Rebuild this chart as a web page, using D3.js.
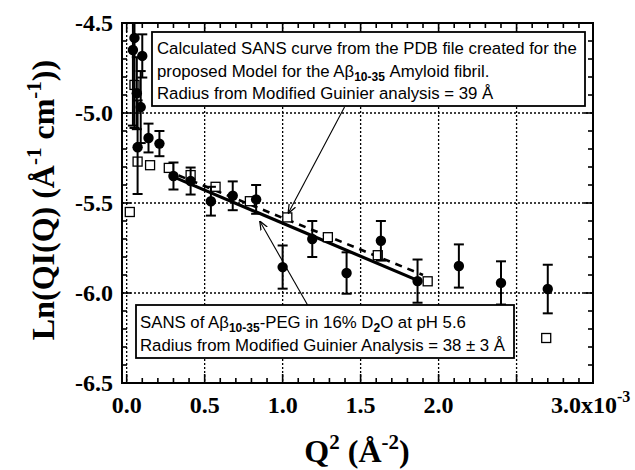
<!DOCTYPE html>
<html>
<head>
<meta charset="utf-8">
<script src="https://cdn.jsdelivr.net/npm/d3@7"></script>
<style>
  body { margin: 0; background: #fff; }
  svg { display: block; }
  .tick-lab { font-family: "Liberation Serif", "Times New Roman", serif; font-weight: bold; font-size: 24px; }
  .title { font-family: "Liberation Serif", "Times New Roman", serif; font-weight: bold; font-size: 32px; }
  .note { font-family: "Liberation Sans", Arial, sans-serif; font-size: 16.8px; }
</style>
</head>
<body>
<div id="chart"></div>
<script>
// measured SANS points (Q^2 in 1e-3 A^-2, ln(QI(Q)), error)
var measQ2  = [0.05, 0.04, 0.10, 0.065, 0.09, 0.07, 0.14, 0.21, 0.30, 0.41, 0.54, 0.68, 0.83, 1.00, 1.19, 1.41, 1.63, 1.865, 2.13, 2.40, 2.70];
var measLn  = [-4.583, -4.65, -4.683, -4.89, -4.967, -5.19, -5.139, -5.17, -5.35, -5.378, -5.49, -5.46, -5.48, -5.856, -5.70, -5.889, -5.71, -5.934, -5.85, -5.944, -5.978];
var measErr = [0.5, 0.42, 0.12, 0.2, 0.2, 0.26, 0.08, 0.07, 0.075, 0.075, 0.08, 0.08, 0.08, 0.12, 0.1, 0.115, 0.11, 0.12, 0.12, 0.12, 0.135];

// calculated curve from the PDB model (open squares)
var calcQ2 = [0.02, 0.05, 0.07, 0.15, 0.27, 0.41, 0.57, 0.79, 1.03, 1.29, 1.61, 1.93, 2.69];
var calcLn = [-5.55, -4.844, -5.27, -5.29, -5.305, -5.345, -5.41, -5.49, -5.58, -5.69, -5.79, -5.935, -6.25];

// Guinier fits: solid = measured, dashed = calculated
var fitMeasQ2 = [0.30, 1.865];
var fitMeasLn = [-5.355, -5.93];
var fitCalcQ2 = [0.256, 1.90];
var fitCalcLn = [-5.32, -5.90];

var xTicks = [0.0, 0.5, 1.0, 1.5, 2.0, 3.0];
var yTicks = [-4.5, -5.0, -5.5, -6.0, -6.5];

var width = 635, height = 470;
var pLeft = 122, pRight = 593, pTop = 23, pBottom = 383;

var svg = d3.select("#chart").append("svg")
    .attr("width", width)
    .attr("height", height);

var x = d3.scaleLinear().domain([-0.03, 2.99]).range([pLeft, pRight]);
var y = d3.scaleLinear().domain([-6.5, -4.5]).range([pBottom, pTop]);

var defs = svg.append("defs");
defs.append("clipPath").attr("id", "plot")
  .append("rect").attr("x", pLeft).attr("y", pTop)
  .attr("width", pRight - pLeft).attr("height", pBottom - pTop);

// dotted grid
var grid = svg.append("g").attr("stroke", "#000").attr("stroke-width", 1.3)
    .attr("stroke-dasharray", "2,2");
[0.0, 0.5, 1.0, 1.5, 2.0, 2.5].forEach(function(v) {
  grid.append("line").attr("x1", x(v)).attr("x2", x(v)).attr("y1", pTop).attr("y2", pBottom);
});
[-5.0, -5.5, -6.0].forEach(function(v) {
  grid.append("line").attr("x1", pLeft).attr("x2", pRight).attr("y1", y(v)).attr("y2", y(v));
});

// inward ticks on all four sides
function tickLen(v, step) {
  return Math.abs(Math.round(v / step) - v / step) < 1e-6 ? 9 : 5;
}
var ticks = svg.append("g").attr("stroke", "#000").attr("stroke-width", 1.6);
d3.range(0, 30).map(function(i) { return i / 10; }).forEach(function(v) {
  var len = tickLen(v, 0.5);
  ticks.append("line").attr("x1", x(v)).attr("x2", x(v)).attr("y1", pBottom).attr("y2", pBottom - len);
  ticks.append("line").attr("x1", x(v)).attr("x2", x(v)).attr("y1", pTop).attr("y2", pTop + len);
});
d3.range(-64, -45).map(function(i) { return i / 10; }).forEach(function(v) {
  var len = tickLen(v, 0.5);
  ticks.append("line").attr("x1", pLeft).attr("x2", pLeft + len).attr("y1", y(v)).attr("y2", y(v));
  ticks.append("line").attr("x1", pRight).attr("x2", pRight - len).attr("y1", y(v)).attr("y2", y(v));
});

// frame
svg.append("rect").attr("x", pLeft).attr("y", pTop)
  .attr("width", pRight - pLeft).attr("height", pBottom - pTop)
  .attr("fill", "none").attr("stroke", "#000").attr("stroke-width", 2);

// tick labels
svg.selectAll(".ylab").data(yTicks).enter().append("text")
  .attr("class", "tick-lab")
  .attr("x", pLeft - 9).attr("y", function(d) { return y(d); })
  .attr("dy", "0.35em").attr("text-anchor", "end")
  .text(function(d) { return d3.format(".1f")(d).replace("−", "-"); });

xTicks.forEach(function(v) {
  var t = svg.append("text").attr("class", "tick-lab")
    .attr("x", x(v)).attr("y", 413).attr("text-anchor", "middle");
  if (v === 3.0) {
    t.attr("x", x(v) - 4);
    t.append("tspan").text("3.0x10");
    t.append("tspan").attr("dy", -11).attr("font-size", "16px").text("-3");
  } else {
    t.text(d3.format(".1f")(v));
  }
});

var plot = svg.append("g").attr("clip-path", "url(#plot)");

// fit lines
var line = d3.line().x(function(d) { return x(d[0]); }).y(function(d) { return y(d[1]); });
plot.append("path").datum(d3.zip(fitMeasQ2, fitMeasLn)).attr("d", line)
  .attr("fill", "none").attr("stroke", "#000").attr("stroke-width", 3.2);
plot.append("path").datum(d3.zip(fitCalcQ2, fitCalcLn)).attr("d", line)
  .attr("fill", "none").attr("stroke", "#000").attr("stroke-width", 2.6)
  .attr("stroke-dasharray", "7,6");

// open squares
var sq = 9;
plot.selectAll(".sq").data(d3.zip(calcQ2, calcLn)).enter().append("rect")
  .attr("x", function(d) { return x(d[0]) - sq / 2; })
  .attr("y", function(d) { return y(d[1]) - sq / 2; })
  .attr("width", sq).attr("height", sq)
  .attr("fill", "#fff").attr("stroke", "#000").attr("stroke-width", 1.3);

// error bars + filled circles
var meas = d3.zip(measQ2, measLn, measErr);
var eb = plot.append("g").attr("stroke", "#000").attr("stroke-width", 2);
meas.forEach(function(d) {
  var cx = x(d[0]), y1 = y(d[1] + d[2]), y2 = y(d[1] - d[2]);
  eb.append("line").attr("x1", cx).attr("x2", cx).attr("y1", y1).attr("y2", y2);
  eb.append("line").attr("x1", cx - 5).attr("x2", cx + 5).attr("y1", y1).attr("y2", y1);
  eb.append("line").attr("x1", cx - 5).attr("x2", cx + 5).attr("y1", y2).attr("y2", y2);
});
plot.selectAll(".pt").data(meas).enter().append("circle")
  .attr("cx", function(d) { return x(d[0]); })
  .attr("cy", function(d) { return y(d[1]); })
  .attr("r", 5.2).attr("fill", "#000");

// arrows
defs.append("marker").attr("id", "arr")
  .attr("viewBox", "0 0 10 10").attr("refX", 10).attr("refY", 5)
  .attr("markerWidth", 9).attr("markerHeight", 9).attr("orient", "auto")
  .attr("markerUnits", "userSpaceOnUse")
  .append("path").attr("d", "M0,1 L10,5 L0,9").attr("fill", "none")
  .attr("stroke", "#000").attr("stroke-width", 1.4);
function arrow(x1, y1, x2, y2) {
  svg.append("line").attr("x1", x(x1)).attr("y1", y(y1)).attr("x2", x(x2)).attr("y2", y(y2))
    .attr("stroke", "#000").attr("stroke-width", 1.1).attr("marker-end", "url(#arr)");
}
arrow(1.397, -4.967, 1.035, -5.558);
arrow(1.16, -6.067, 0.853, -5.60);

// annotation boxes
function box(x0, y0, w, h) {
  svg.append("rect").attr("x", x0).attr("y", y0).attr("width", w).attr("height", h)
    .attr("fill", "#fff").attr("stroke", "#000").attr("stroke-width", 1.8);
}
function note(px, py, parts) {
  var t = svg.append("text").attr("class", "note").attr("x", px).attr("y", py);
  parts.forEach(function(p) {
    var s = t.append("tspan").text(p[0]);
    if (p[1] === "sub") s.attr("dy", 4).attr("font-size", "12px").attr("font-weight", "bold");
    if (p[1] === "back") s.attr("dy", -4);
  });
}
box(152, 32, 433, 74);
note(157, 54, [["Calculated SANS curve from the PDB file created for the"]]);
note(157, 77, [["proposed Model for the A\u03b2"], ["10-35", "sub"], [" Amyloid fibril.", "back"]]);
note(157, 99, [["Radius from Modified Guinier analysis = 39 \u00c5"]]);

box(136, 305, 378, 53);
note(140, 328, [["SANS of A\u03b2"], ["10-35", "sub"], ["-PEG in 16% D", "back"], ["2", "sub"], ["O at pH 5.6", "back"]]);
note(140, 351, [["Radius from Modified Guinier Analysis = 38 \u00b1 3 \u00c5"]]);

// axis titles
var yt = svg.append("text").attr("class", "title")
  .attr("transform", "translate(54,200) rotate(-90)").attr("text-anchor", "middle");
yt.append("tspan").text("Ln(QI(Q) (\u00c5");
yt.append("tspan").attr("dy", -13).attr("font-size", "21px").text("-1");
yt.append("tspan").attr("dy", 13).text(" cm");
yt.append("tspan").attr("dy", -13).attr("font-size", "21px").text("-1");
yt.append("tspan").attr("dy", 13).text("))");

var xt = svg.append("text").attr("class", "title")
  .attr("x", 357).attr("y", 462).attr("text-anchor", "middle");
xt.append("tspan").text("Q");
xt.append("tspan").attr("dy", -13).attr("font-size", "21px").text("2");
xt.append("tspan").attr("dy", 13).text(" (\u00c5");
xt.append("tspan").attr("dy", -13).attr("font-size", "21px").text("-2");
xt.append("tspan").attr("dy", 13).text(")");
</script>
</body>
</html>
